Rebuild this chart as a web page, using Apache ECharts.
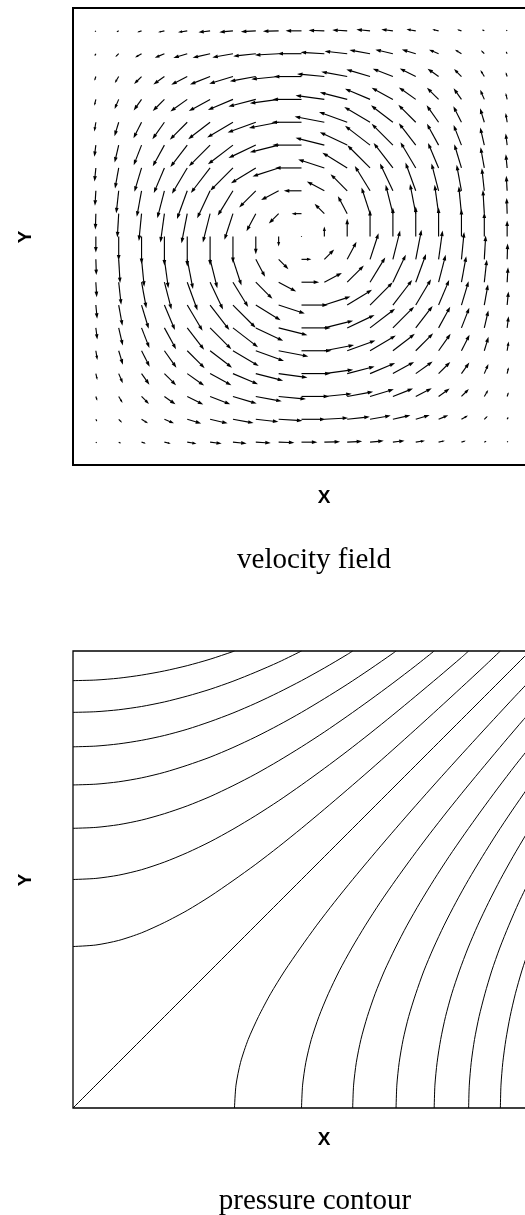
<!DOCTYPE html>
<html>
<head>
<meta charset="utf-8">
<script src="https://cdn.jsdelivr.net/npm/echarts@6/dist/echarts.min.js"></script>
<style>
  html, body { margin: 0; padding: 0; background: #fff; overflow: hidden; }
  #chart { width: 560px; height: 1215px; }
</style>
</head>
<body>
<div id="chart"></div>
<script>
// ---- velocity field: sample points along each axis (cavity is the unit square) ----
const velocityGrid = [0.05, 0.10, 0.15, 0.20, 0.25, 0.30, 0.35, 0.40, 0.45, 0.50,
                      0.55, 0.60, 0.65, 0.70, 0.75, 0.80, 0.85, 0.90, 0.95];
// amplitude profile across the cavity (small at the walls, 1 in the middle)
const ampProfile = [0.05, 0.14, 0.27, 0.40, 0.58, 0.73, 0.86, 0.94, 0.99, 1.00,
                    0.99, 0.94, 0.86, 0.73, 0.58, 0.40, 0.27, 0.14, 0.05];
// shear profile across the cavity (changes sign at the vortex centre)
const shearProfile = [0.53, 0.80, 0.92, 0.97, 1.00, 0.97, 0.88, 0.59, 0.33, 0.00,
                      -0.33, -0.59, -0.88, -0.97, -1.00, -0.97, -0.92, -0.80, -0.53];

// ---- pressure: samples along an axis and the contour levels drawn ----
const pressureGrid = [0, 0.05, 0.10, 0.15, 0.20, 0.25, 0.30, 0.35, 0.40, 0.45, 0.50,
                      0.55, 0.60, 0.65, 0.70, 0.75, 0.80, 0.85, 0.90, 0.95, 1.00];
const pressureProfile = [0, 0.0025, 0.01, 0.0225, 0.04, 0.0625, 0.09, 0.1225, 0.16, 0.2025, 0.25,
                         0.3025, 0.36, 0.4225, 0.49, 0.5625, 0.64, 0.7225, 0.81, 0.9025, 1.00];
const pressureLevels = [-0.875, -0.75, -0.625, -0.5, -0.375, -0.25, -0.125, 0,
                        0.125, 0.25, 0.375, 0.5, 0.625, 0.75, 0.875];

const panelTitles = ['velocity field', 'pressure contour'];
const axisNames = ['X', 'Y'];

// velocity vectors (u, v) at each grid node
const vectors = [];
velocityGrid.forEach((x, i) => {
  velocityGrid.forEach((y, j) => {
    const u = ampProfile[i] * shearProfile[j];
    const v = -shearProfile[i] * ampProfile[j];
    vectors.push([x, y, u, v]);
  });
});

// pressure on the sample lattice: p(x_i, y_j)
function pressureAt(i, j) { return pressureProfile[i] - pressureProfile[j]; }

// follow one contour level across the lattice; positive levels are walked row
// by row, negative levels column by column, ending where the curve meets a wall
function traceLevel(c) {
  const n = pressureGrid.length;
  const alongX = c >= 0;
  const val = (k, m) => alongX ? pressureAt(k, m) : pressureAt(m, k);
  const pts = [];
  for (let m = 0; m < n; m++) {
    let hit = null;
    for (let k = 0; k < n - 1; k++) {
      const a = val(k, m) - c, b = val(k + 1, m) - c;
      if (a * b <= 0 && a !== b) {
        const t = -a / (b - a);
        hit = pressureGrid[k] + t * (pressureGrid[k + 1] - pressureGrid[k]);
        break;
      }
    }
    if (hit !== null) {
      pts.push(alongX ? [hit, pressureGrid[m]] : [pressureGrid[m], hit]);
    } else {
      if (m > 0) {
        const a = val(n - 1, m - 1) - c, b = val(n - 1, m) - c;
        const t = -a / (b - a);
        const s = pressureGrid[m - 1] + t * (pressureGrid[m] - pressureGrid[m - 1]);
        pts.push(alongX ? [pressureGrid[n - 1], s] : [s, pressureGrid[n - 1]]);
      }
      break;
    }
  }
  return pts;
}

const ARROW_SCALE = 30;   // px per unit speed
function renderArrow(params, api) {
  const x = api.value(0), y = api.value(1), u = api.value(2), v = api.value(3);
  const p = api.coord([x, y]);
  const dx = u * ARROW_SCALE, dy = -v * ARROW_SCALE;
  const len = Math.hypot(dx, dy);
  if (len < 0.8) {
    return { type: 'circle', shape: { cx: p[0], cy: p[1], r: 0.6 }, style: { fill: '#222' } };
  }
  const ux = dx / len, uy = dy / len;
  const hl = Math.min(5.5, len * 0.45), hw = hl * 0.34;
  const tip = [p[0] + dx, p[1] + dy];
  const base = [tip[0] - ux * hl, tip[1] - uy * hl];
  return {
    type: 'group',
    children: [
      { type: 'line', shape: { x1: p[0], y1: p[1], x2: base[0] + ux * 0.5, y2: base[1] + uy * 0.5 },
        style: { stroke: '#000', lineWidth: 1.15 } },
      { type: 'polygon',
        shape: { points: [tip, [base[0] - uy * hw, base[1] + ux * hw], [base[0] + uy * hw, base[1] - ux * hw]] },
        style: { fill: '#000' } }
    ]
  };
}

const hiddenAxis = {
  type: 'value', min: 0, max: 1,
  axisLine: { show: false }, axisTick: { show: false },
  axisLabel: { show: false }, splitLine: { show: false }
};

const contourSeries = pressureLevels.map(c => ({
  type: 'line',
  xAxisIndex: 1, yAxisIndex: 1,
  data: traceLevel(c),
  showSymbol: false,
  smooth: 0.25,
  silent: true,
  lineStyle: { color: '#000', width: 1 }
}));

const labelFont = { fontFamily: 'Liberation Sans', fontWeight: 'bold', fontSize: 19, fill: '#000' };
const titleFont = { fontFamily: 'Liberation Serif', fontSize: 29, fill: '#000' };

const chart = echarts.init(document.getElementById('chart'), null, { renderer: 'canvas' });
chart.setOption({
  animation: false,
  backgroundColor: '#fff',
  grid: [
    { left: 73, top: 8, width: 457, height: 457, show: true, borderColor: '#000', borderWidth: 2, backgroundColor: 'transparent' },
    { left: 73, top: 651, width: 457, height: 457, show: true, borderColor: '#000', borderWidth: 1.3, backgroundColor: 'transparent' }
  ],
  xAxis: [Object.assign({ gridIndex: 0 }, hiddenAxis), Object.assign({ gridIndex: 1 }, hiddenAxis)],
  yAxis: [Object.assign({ gridIndex: 0 }, hiddenAxis), Object.assign({ gridIndex: 1 }, hiddenAxis)],
  series: [
    {
      type: 'custom',
      xAxisIndex: 0, yAxisIndex: 0,
      data: vectors,
      renderItem: renderArrow,
      silent: true
    }
  ].concat(contourSeries),
  graphic: [
    { type: 'text', x: 324, y: 498, style: Object.assign({ text: axisNames[0], align: 'center', verticalAlign: 'middle' }, labelFont) },
    { type: 'text', x: 26, y: 237, rotation: Math.PI / 2, style: Object.assign({ text: axisNames[1], align: 'center', verticalAlign: 'middle' }, labelFont) },
    { type: 'text', x: 314, y: 560, style: Object.assign({ text: panelTitles[0], align: 'center', verticalAlign: 'middle' }, titleFont) },
    { type: 'text', x: 324, y: 1140, style: Object.assign({ text: axisNames[0], align: 'center', verticalAlign: 'middle' }, labelFont) },
    { type: 'text', x: 26, y: 880, rotation: Math.PI / 2, style: Object.assign({ text: axisNames[1], align: 'center', verticalAlign: 'middle' }, labelFont) },
    { type: 'text', x: 315, y: 1201, style: Object.assign({ text: panelTitles[1], align: 'center', verticalAlign: 'middle' }, titleFont) }
  ]
});
</script>
</body>
</html>
